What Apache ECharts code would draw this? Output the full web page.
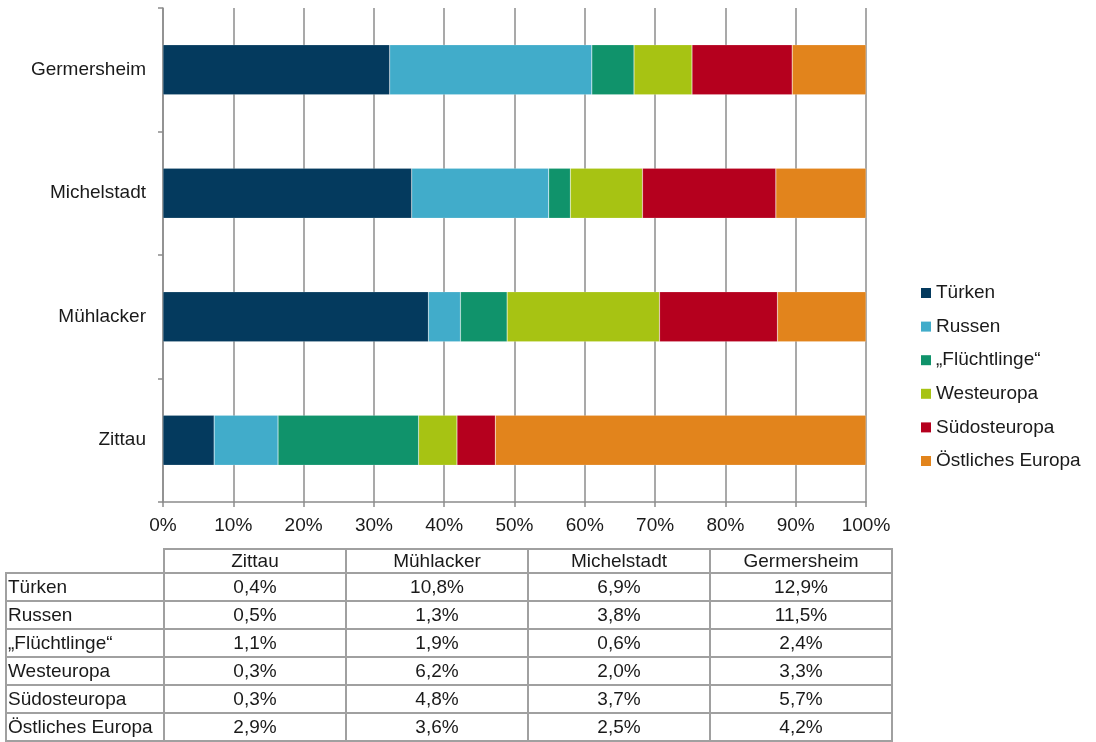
<!DOCTYPE html>
<html>
<head>
<meta charset="utf-8">
<script src="https://cdn.jsdelivr.net/npm/echarts@6/dist/echarts.min.js"></script>
<style>
  html, body { margin: 0; padding: 0; background: #fff; }
  #chart { width: 1096px; height: 742px; }
  #tbl {
    position: absolute; left: 5px; top: 548px;
    border-collapse: collapse;
    font-family: "Liberation Sans", Arial, sans-serif; font-size: 19px; color: #1a1a1a;
  }
  #tbl td { border: 2px solid #a0a0a0; padding: 0; text-align: center; height: 26px; line-height: 26px; white-space: nowrap; }
  #tbl tr.head td { height: 22px; line-height: 22px; }
  #tbl td.lab { text-align: left; padding-left: 1px; width: 155px; }
  #tbl td.val { width: 180px; }
  #tbl tr.head td.blank { border: none; }
</style>
</head>
<body>
<div id="chart"></div>
<table id="tbl"></table>
<script>
// orte (von unten nach oben im diagramm, wie spalten der tabelle)
const orte = ['Zittau', 'Mühlacker', 'Michelstadt', 'Germersheim'];
const gruppen = ['Türken', 'Russen', '„Flüchtlinge“', 'Westeuropa', 'Südosteuropa', 'Östliches Europa'];
const farben = ['#043a5e', '#41acca', '#10936b', '#a7c313', '#b5001e', '#e2841c'];

// anteile an der bevoelkerung in %, je ort
const tuerken = [0.4, 10.8, 6.9, 12.9];
const russen = [0.5, 1.3, 3.8, 11.5];
const fluechtlinge = [1.1, 1.9, 0.6, 2.4];
const westeuropa = [0.3, 6.2, 2.0, 3.3];
const suedosteuropa = [0.3, 4.8, 3.7, 5.7];
const oestlEuropa = [2.9, 3.6, 2.5, 4.2];

const werte = [tuerken, russen, fluechtlinge, westeuropa, suedosteuropa, oestlEuropa];

// summe je ort -> balken auf 100% normiert
const summen = orte.map((o, i) => werte.reduce((s, w) => s + w[i], 0));

const fmt = v => v.toFixed(1).replace('.', ',') + '%';

// tabelle
const tbl = document.getElementById('tbl');
let html = '<tr class="head"><td class="blank"></td>' + orte.map(o => '<td class="val">' + o + '</td>').join('') + '</tr>';
gruppen.forEach((g, k) => {
  html += '<tr><td class="lab">' + g + '</td>' + werte[k].map(v => '<td class="val">' + fmt(v) + '</td>').join('') + '</tr>';
});
tbl.innerHTML = html;

const font = '"Liberation Sans", Arial, sans-serif';
const myChart = echarts.init(document.getElementById('chart'));

const option = {
  animation: false,
  textStyle: { fontFamily: font },
  grid: { left: 163, right: 230, top: 8, bottom: 240 },
  legend: {
    orient: 'vertical',
    left: 921,
    top: 283.5,
    padding: 0,
    itemWidth: 10,
    itemHeight: 10,
    itemGap: 14.6,
    itemTextGap: 6,
    itemStyle: { borderWidth: 0 },
    icon: 'rect',
    textStyle: { fontSize: 19, color: '#1a1a1a', fontFamily: font, lineHeight: 19 },
    data: gruppen
  },
  xAxis: {
    type: 'value',
    min: 0,
    max: 100,
    interval: 10,
    axisLine: { show: true, lineStyle: { color: '#8c8c8c', width: 1.5 } },
    axisTick: { show: true, length: 5, lineStyle: { color: '#8c8c8c', width: 1.5 } },
    axisLabel: { formatter: '{value}%', fontSize: 19, color: '#1a1a1a', margin: 14, fontFamily: font },
    splitLine: { show: true, lineStyle: { color: '#8c8c8c', width: 1.5 } }
  },
  yAxis: {
    type: 'category',
    data: orte,
    axisLine: { show: true, lineStyle: { color: '#8c8c8c', width: 1.5 } },
    axisTick: { show: true, length: 5, lineStyle: { color: '#8c8c8c', width: 1.5 } },
    axisLabel: { fontSize: 19, color: '#1a1a1a', margin: 17, fontFamily: font, padding: [4, 0, 0, 0] }
  },
  series: gruppen.map((g, k) => ({
    name: g,
    type: 'bar',
    stack: 'total',
    barWidth: 50,
    itemStyle: { color: farben[k], borderColor: 'rgba(255,255,255,0.35)', borderWidth: 0.5 },
    data: werte[k].map((v, i) => v / summen[i] * 100)
  }))
};

myChart.setOption(option);
</script>
</body>
</html>
